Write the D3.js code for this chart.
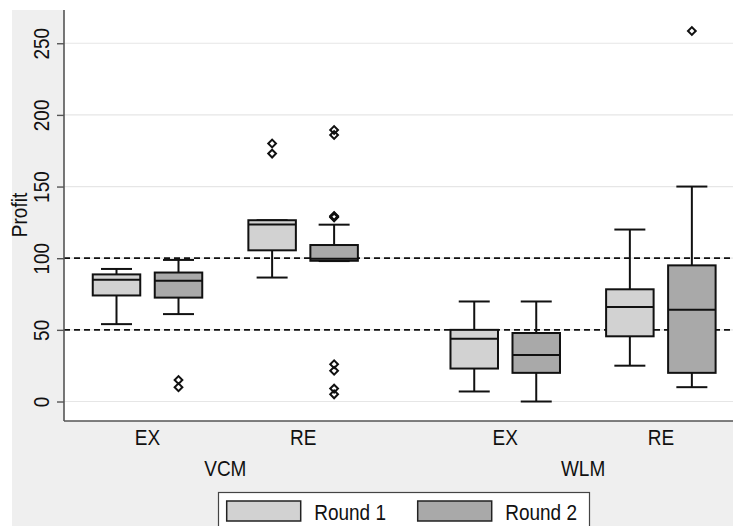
<!DOCTYPE html>
<html>
<head>
<meta charset="utf-8">
<script src="https://cdn.jsdelivr.net/npm/d3@7"></script>
<style>
  body { margin: 0; background: #fff; }
  svg { display: block; font-family: "Liberation Sans", Arial, Helvetica, sans-serif; }
</style>
</head>
<body>
<script>
const width = 733;
const height = 526;

// data, order: VCM-EX-R1, VCM-EX-R2, VCM-RE-R1, VCM-RE-R2, WLM-EX-R1, ...
const mechanisms = ["VCM", "WLM"];
const treatments = ["EX", "RE"];
const rounds = ["Round 1", "Round 2"];
const lowerWhisker = [54, 61, 86.5, 98, 7, 0, 25, 10];
const q1 = [74, 72.5, 105.5, 98.2, 23, 20, 45.5, 20];
const median = [85, 84.3, 123.5, 99.6, 43.8, 32.5, 66, 64];
const q3 = [88.7, 90, 126.5, 109.2, 50, 47.8, 78.3, 95];
const upperWhisker = [92.5, 98.8, 126.5, 123.4, 69.8, 69.8, 120, 150];
const outliers = [[], [15, 10], [180, 173], [189.5, 186, 129.5, 129, 128.5, 26, 21.5, 9, 5], [], [], [], [258.5]];
const refLines = [50, 100];
const yTicks = [0, 50, 100, 150, 200, 250];

const fills = {"Round 1": "#d2d2d2", "Round 2": "#a9a9a9"};
const fontSize = 19;
const stretch = "scale(1,1.12)"; // taller glyphs like the original font

const plot = {left: 64, right: 733, top: 10, bottom: 421};

const rows = [];
mechanisms.forEach((m, mi) => treatments.forEach((t, ti) => rounds.forEach((r, ri) => {
  const i = rows.length;
  rows.push({m, mi, t, ti, r, ri, lo: lowerWhisker[i], q1: q1[i], med: median[i], q3: q3[i], hi: upperWhisker[i], out: outliers[i]});
})));

// slot position: mechanism gap, treatment gap, round step
const slot = (mi, ti, ri) => mi * 5.77 + ti * 2.51 + ri;
const x = d3.scaleLinear().domain([0, 1]).range([116.5, 178.5]);
const boxW = 47.5;
const capW = 31;

const y = d3.scaleLinear().domain([-13.6, 273.2]).range([plot.bottom, plot.top]);

const svg = d3.select("body").append("svg")
  .attr("width", width).attr("height", height);

svg.append("rect").attr("x", 12).attr("y", 10).attr("width", width - 12).attr("height", height - 10)
  .attr("fill", "#efefef");
svg.append("rect").attr("x", plot.left).attr("y", plot.top)
  .attr("width", plot.right - plot.left).attr("height", plot.bottom - plot.top)
  .attr("fill", "#fff");

// gridlines
svg.append("g").selectAll("line").data(yTicks).join("line")
  .attr("x1", plot.left).attr("x2", plot.right)
  .attr("y1", d => y(d)).attr("y2", d => y(d))
  .attr("stroke", "#e6e6e6").attr("stroke-width", 1.2);

// reference lines
svg.append("g").selectAll("line").data(refLines).join("line")
  .attr("x1", plot.left).attr("x2", plot.right)
  .attr("y1", d => y(d)).attr("y2", d => y(d))
  .attr("stroke", "#111").attr("stroke-width", 1.8).attr("stroke-dasharray", "6,4");

// y axis
const yAxis = svg.append("g").attr("transform", `translate(${plot.left},0)`)
  .call(d3.axisLeft(y).tickValues(yTicks).tickSize(7).tickFormat(d3.format("d")));
yAxis.select(".domain").attr("d", `M0,${plot.top}V${plot.bottom}`).attr("stroke", "#555").attr("stroke-width", 1.6);
yAxis.selectAll(".tick line").attr("stroke", "#555").attr("stroke-width", 1.4);
yAxis.selectAll(".tick text")
  .attr("x", 0).attr("y", 0).attr("dy", null)
  .attr("transform", `translate(-15,0) rotate(-90) ${stretch}`)
  .attr("text-anchor", "middle")
  .attr("font-size", fontSize).attr("fill", "#111")
  .attr("font-family", "Liberation Sans, Arial, sans-serif");

svg.append("text").attr("transform", `translate(27,215) rotate(-90) ${stretch}`)
  .attr("text-anchor", "middle").attr("font-size", fontSize).attr("fill", "#111")
  .text("Profit");

// x axis line
svg.append("line").attr("x1", plot.left).attr("x2", plot.right)
  .attr("y1", plot.bottom).attr("y2", plot.bottom)
  .attr("stroke", "#555").attr("stroke-width", 1.6);

// boxes
const g = svg.append("g").selectAll("g").data(rows).join("g")
  .attr("transform", d => `translate(${x(slot(d.mi, d.ti, d.ri))},0)`);

g.append("line").attr("x1", 0).attr("x2", 0)
  .attr("y1", d => y(d.q3)).attr("y2", d => y(d.hi))
  .attr("stroke", "#111").attr("stroke-width", 2);
g.append("line").attr("x1", 0).attr("x2", 0)
  .attr("y1", d => y(d.q1)).attr("y2", d => y(d.lo))
  .attr("stroke", "#111").attr("stroke-width", 2);
g.append("line").attr("x1", -capW / 2).attr("x2", capW / 2)
  .attr("y1", d => y(d.hi)).attr("y2", d => y(d.hi))
  .attr("stroke", "#111").attr("stroke-width", 2);
g.append("line").attr("x1", -capW / 2).attr("x2", capW / 2)
  .attr("y1", d => y(d.lo)).attr("y2", d => y(d.lo))
  .attr("stroke", "#111").attr("stroke-width", 2);
g.append("rect").attr("x", -boxW / 2).attr("width", boxW)
  .attr("y", d => y(d.q3)).attr("height", d => y(d.q1) - y(d.q3))
  .attr("fill", d => fills[d.r]).attr("stroke", "#111").attr("stroke-width", 2);
g.append("line").attr("x1", -boxW / 2).attr("x2", boxW / 2)
  .attr("y1", d => y(d.med)).attr("y2", d => y(d.med))
  .attr("stroke", "#111").attr("stroke-width", 2);

const diamond = d3.symbol().type(d3.symbolSquare).size(30);
g.selectAll("path.out").data(d => d.out).join("path").attr("class", "out")
  .attr("d", diamond)
  .attr("transform", v => `translate(0,${y(v)}) rotate(45)`)
  .attr("fill", "none").attr("stroke", "#111").attr("stroke-width", 2);

// category labels
const labelRows = [];
mechanisms.forEach((m, mi) => treatments.forEach((t, ti) => labelRows.push({mi, ti, t})));
svg.append("g").selectAll("text").data(labelRows).join("text")
  .attr("transform", d => `translate(${x(slot(d.mi, d.ti, 0.5))},445) ${stretch}`)
  .attr("text-anchor", "middle").attr("font-size", fontSize).attr("fill", "#111")
  .text(d => d.t);
svg.append("g").selectAll("text").data(mechanisms).join("text")
  .attr("transform", (d, mi) => `translate(${x(slot(mi, 0.5, 0.5))},476) ${stretch}`)
  .attr("text-anchor", "middle").attr("font-size", fontSize).attr("fill", "#111")
  .text(d => d);

// legend
svg.append("rect").attr("x", 218.5).attr("y", 492.5).attr("width", 371).attr("height", 50)
  .attr("fill", "#fff").attr("stroke", "#444").attr("stroke-width", 1.2);
const leg = svg.append("g").selectAll("g").data(rounds).join("g")
  .attr("transform", (d, i) => `translate(${226.7 + i * 191},0)`);
leg.append("rect").attr("x", 0).attr("y", 501).attr("width", 74).attr("height", 20)
  .attr("fill", d => fills[d]).attr("stroke", "#222").attr("stroke-width", 1.5);
leg.append("text").attr("transform", "translate(87.5,519.5) " + stretch)
  .attr("font-size", fontSize).attr("fill", "#111")
  .text(d => d);
</script>
</body>
</html>
